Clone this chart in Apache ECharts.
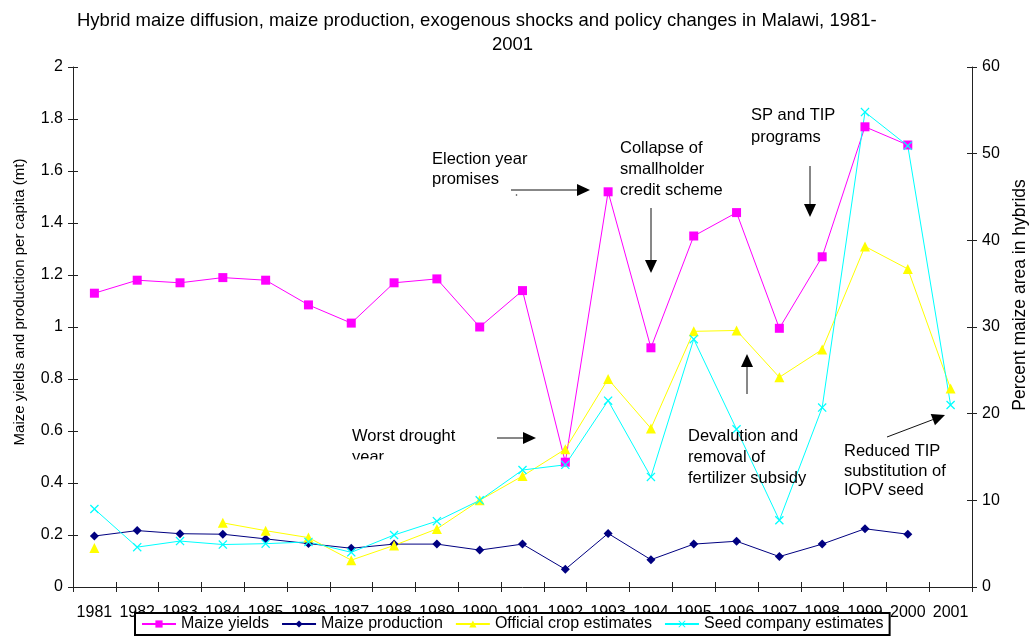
<!DOCTYPE html>
<html>
<head>
<meta charset="utf-8">
<script src="https://cdn.jsdelivr.net/npm/echarts@6/dist/echarts.min.js"></script>
<style>
  html, body { margin: 0; padding: 0; background: #ffffff; }
  #chart { width: 1033px; height: 639px; }
</style>
</head>
<body>
<div id="chart"></div>
<script>
// Years on the category axis
const years = ['1981', '1982', '1983', '1984', '1985', '1986', '1987', '1988', '1989', '1990',
               '1991', '1992', '1993', '1994', '1995', '1996', '1997', '1998', '1999', '2000', '2001'];

// Left axis: tonnes (yield per ha, production per capita)
const maizeYields = [1.13, 1.18, 1.17, 1.19, 1.18, 1.085, 1.015, 1.17, 1.185, 1.0,
                     1.14, 0.48, 1.52, 0.92, 1.35, 1.44, 0.995, 1.27, 1.77, 1.70, null];
const maizeProduction = [0.196, 0.217, 0.205, 0.203, 0.185, 0.167, 0.149, 0.165, 0.165, 0.142,
                         0.165, 0.068, 0.206, 0.105, 0.165, 0.176, 0.117, 0.165, 0.224, 0.203, null];

// Right axis: percent of maize area planted to hybrids
const officialEstimates = [4.5, null, null, 7.4, 6.5, 5.7, 3.1, 4.8, 6.7, 10.0,
                           12.8, 15.9, 24.0, 18.3, 29.5, 29.6, 24.2, 27.4, 39.3, 36.7, 22.9];
const seedCompanyEstimates = [9.0, 4.6, 5.3, 4.9, 5.0, 5.2, 4.0, 6.0, 7.6, 10.0,
                              13.5, 14.1, 21.5, 12.7, 28.6, 18.2, 7.7, 20.7, 54.8, 50.9, 21.0];

const FONT = 'Liberation Sans, Arial, sans-serif';
const INK = '#000000';
const AXIS_INK = '#222222';

// thin "x" marker
const CROSS = 'path://M0,1L1,0L5,4L9,0L10,1L6,5L10,9L9,10L5,6L1,10L0,9L4,5Z';

// arrow = shaft + filled head
function arrow(x1, y1, x2, y2) {
  const len = 13, half = 6;
  const a = Math.atan2(y2 - y1, x2 - x1);
  const bx = x2 - len * Math.cos(a), by = y2 - len * Math.sin(a);
  const px = -Math.sin(a) * half, py = Math.cos(a) * half;
  return [
    { type: 'line', shape: { x1: x1, y1: y1, x2: bx, y2: by },
      style: { stroke: '#111', lineWidth: 1 }, z: 10 },
    { type: 'polygon', shape: { points: [[x2, y2], [bx + px, by + py], [bx - px, by - py]] },
      style: { fill: '#000' }, z: 10 }
  ];
}

function note(x, y, text, lineHeight) {
  return { type: 'text', x: x, y: y, z: 10,
    style: { text: text, font: '16.5px ' + FONT, fill: INK, lineHeight: lineHeight,
             align: 'left', verticalAlign: 'top' } };
}

const notes = [].concat(
  note(432, 149, 'Election year\npromises', 20),
  arrow(511, 190, 590, 190),
  [{ type: 'circle', shape: { cx: 516.5, cy: 195, r: 0.8 }, style: { fill: '#333' }, z: 10 }],
  note(620, 138, 'Collapse of\nsmallholder\ncredit scheme', 21),
  arrow(651, 208, 651, 273),
  note(751, 105, 'SP and TIP\nprograms', 21.5),
  arrow(810, 166, 810, 217),
  note(352, 426, 'Worst drought\nyear', 21),
  // text box of this note is shorter than its second line
  [{ type: 'rect', shape: { x: 346, y: 459.5, width: 60, height: 16 }, style: { fill: '#fff' }, z: 11 }],
  arrow(497, 438, 536, 438),
  note(688, 426, 'Devalution and\nremoval of\nfertilizer subsidy', 21),
  arrow(747, 394, 747, 354),
  note(844, 442, 'Reduced TIP\nsubstitution of\nIOPV seed', 19.5),
  arrow(887, 437, 945, 415),
  // axis titles
  [{ type: 'text', x: 20, y: 302, rotation: Math.PI / 2, z: 10,
     style: { text: 'Maize yields and production per capita (mt)', font: '15px ' + FONT,
              fill: INK, align: 'center', verticalAlign: 'middle' } },
   { type: 'text', x: 1020, y: 295, rotation: Math.PI / 2, z: 10,
     style: { text: 'Percent maize area in hybrids', font: '17.5px ' + FONT,
              fill: INK, align: 'center', verticalAlign: 'middle' } }]
);

const baseLine = { show: true, lineStyle: { color: AXIS_INK, width: 1 } };
const noLine = { show: false };

function yAxisDef(pos, min, max, step, main) {
  return {
    type: 'value', position: pos, min: min, max: max, interval: step,
    splitLine: { show: false },
    axisLine: main ? baseLine : noLine,
    axisTick: { show: true, inside: !main, length: 5, lineStyle: { color: AXIS_INK } },
    axisLabel: main ? { show: true, color: INK, fontSize: 16, fontFamily: FONT, margin: 10 } : { show: false }
  };
}

function xAxisDef(main) {
  return {
    type: 'category', position: 'bottom', data: years, boundaryGap: true,
    axisLine: main ? baseLine : noLine,
    axisTick: { show: true, inside: !main, length: 5, alignWithLabel: false, lineStyle: { color: AXIS_INK } },
    axisLabel: main ? { show: true, interval: 0, hideOverlap: false, color: INK, fontSize: 16,
                        fontFamily: FONT, margin: 18 } : { show: false },
    splitLine: { show: false }
  };
}

function lineSeries(name, data, yIdx, color, symbol, size) {
  return {
    name: name, type: 'line', data: data, xAxisIndex: 0, yAxisIndex: yIdx,
    symbol: symbol, symbolSize: size, showSymbol: true, showAllSymbol: true,
    connectNulls: false, animation: false,
    lineStyle: { color: color, width: 1 },
    itemStyle: { color: color, borderWidth: 0 },
    emphasis: { disabled: true }
  };
}

const chart = echarts.init(document.getElementById('chart'), null, { renderer: 'canvas' });
chart.setOption({
  animation: false,
  backgroundColor: '#ffffff',
  textStyle: { fontFamily: FONT },
  title: [
    { text: 'Hybrid maize diffusion, maize production, exogenous shocks and policy changes in Malawi, 1981-',
      left: 77, top: 11, padding: 0,
      textStyle: { fontSize: 18.5, fontWeight: 'normal', color: INK, fontFamily: FONT } },
    { text: '2001', left: 492, top: 35, padding: 0,
      textStyle: { fontSize: 18.5, fontWeight: 'normal', color: INK, fontFamily: FONT } }
  ],
  grid: { left: 73, right: 61, top: 67, bottom: 52, containLabel: false },
  xAxis: [xAxisDef(true), xAxisDef(false)],
  yAxis: [
    yAxisDef('left', 0, 2, 0.2, true),
    yAxisDef('right', 0, 60, 10, true),
    yAxisDef('left', 0, 2, 0.2, false),
    yAxisDef('right', 0, 60, 10, false)
  ],
  legend: {
    left: 135, top: 613, orient: 'horizontal',
    padding: [3, 6, 3, 6], itemGap: 12, itemWidth: 34, itemHeight: 9,
    borderColor: '#000', borderWidth: 2, backgroundColor: '#fff',
    textStyle: { fontSize: 16, color: INK, fontFamily: FONT },
    data: ['Maize yields', 'Maize production', 'Official crop estimates', 'Seed company estimates']
  },
  series: [
    lineSeries('Maize yields', maizeYields, 0, '#FF00FF', 'rect', 9),
    lineSeries('Maize production', maizeProduction, 0, '#000080', 'diamond', 9),
    lineSeries('Official crop estimates', officialEstimates, 1, '#FFFF00', 'triangle', 10),
    lineSeries('Seed company estimates', seedCompanyEstimates, 1, '#00FFFF', CROSS, 9)
  ],
  graphic: notes
});
</script>
</body>
</html>
